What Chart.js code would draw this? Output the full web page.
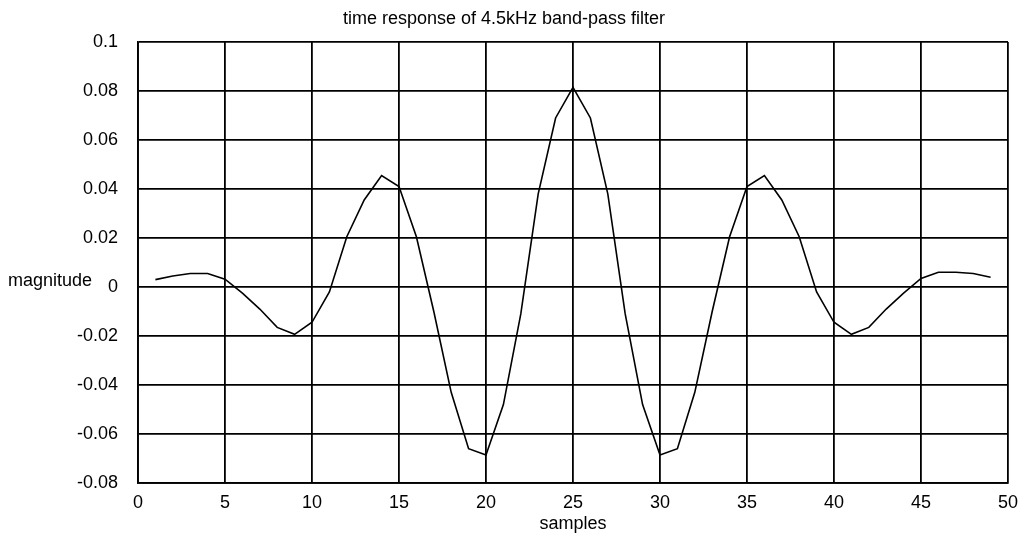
<!DOCTYPE html>
<html>
<head>
<meta charset="utf-8">
<script src="https://cdn.jsdelivr.net/npm/chart.js@4/dist/chart.umd.min.js"></script>
<style>
  html, body { margin: 0; padding: 0; background: #fff; }
  #wrap { width: 1020px; height: 537px; position: relative; }
</style>
</head>
<body>
<div id="wrap"><canvas id="c" width="1020" height="537"></canvas></div>
<script>
const chartTitle = "time response of 4.5kHz band-pass filter";
const xAxisTitle = "samples";
const yAxisTitle = "magnitude";
const samples = [1,2,3,4,5,6,7,8,9,10,11,12,13,14,15,16,17,18,19,20,21,22,23,24,25,
                 26,27,28,29,30,31,32,33,34,35,36,37,38,39,40,41,42,43,44,45,46,47,48,49];
const magnitude = [0.003, 0.0045, 0.0055, 0.0055, 0.0032, -0.0025, -0.009, -0.0165, -0.0193, -0.0144,
                   -0.002, 0.0205, 0.0355, 0.0455, 0.041, 0.0205, -0.010, -0.043, -0.066, -0.0686,
                   -0.048, -0.011, 0.038, 0.069, 0.0815,
                   0.069, 0.038, -0.011, -0.048, -0.0686, -0.066, -0.043, -0.010, 0.0205, 0.041,
                   0.0455, 0.0355, 0.0205, -0.002, -0.0144, -0.0193, -0.0165, -0.009, -0.0025, 0.0035,
                   0.006, 0.006, 0.0055, 0.004];
const xTicks = [0, 5, 10, 15, 20, 25, 30, 35, 40, 45, 50];
const yTicks = [-0.08, -0.06, -0.04, -0.02, 0, 0.02, 0.04, 0.06, 0.08, 0.1];

const FONT = "'Liberation Sans', Arial, Helvetica, sans-serif";

const yLabelPlugin = {
  id: 'yLabel',
  afterDraw(chart) {
    const ctx = chart.ctx;
    ctx.save();
    ctx.font = "18px " + FONT;
    ctx.fillStyle = "#000";
    ctx.textAlign = "left";
    ctx.textBaseline = "middle";
    ctx.fillText(yAxisTitle, 8, 281);
    ctx.restore();
  }
};

new Chart(document.getElementById('c'), {
  type: 'line',
  data: {
    datasets: [{
      data: samples.map((s, i) => ({ x: s, y: magnitude[i] })),
      borderColor: '#000',
      borderWidth: 1.6,
      pointRadius: 0,
      tension: 0,
      fill: false
    }]
  },
  options: {
    responsive: false,
    animation: false,
    devicePixelRatio: 1,
    layout: { padding: { left: 0, right: 12, top: 0, bottom: 0 } },
    plugins: {
      legend: { display: false },
      tooltip: { enabled: false },
      title: {
        display: true,
        text: chartTitle,
        color: '#000',
        font: { family: FONT, size: 18, weight: 'normal' },
        padding: { top: 8, bottom: 12.4 }
      }
    },
    scales: {
      x: {
        type: 'linear',
        min: xTicks[0],
        max: xTicks[xTicks.length - 1],
        afterBuildTicks(scale) { scale.ticks = xTicks.map(v => ({ value: v })); },
        afterFit(scale) { scale.height = 54; scale.paddingLeft = 0; scale.paddingRight = 0; },
        ticks: {
          color: '#000',
          font: { family: FONT, size: 18 },
          padding: 9,
          maxRotation: 0,
          autoSkip: false
        },
        grid: { color: '#000', lineWidth: 1.8, drawTicks: false },
        border: { color: '#000', width: 1.8 },
        title: {
          display: true,
          text: xAxisTitle,
          color: '#000',
          font: { family: FONT, size: 18 },
          padding: { top: 0, bottom: 2 }
        }
      },
      y: {
        type: 'linear',
        min: yTicks[0],
        max: yTicks[yTicks.length - 1],
        afterBuildTicks(scale) { scale.ticks = yTicks.map(v => ({ value: v })); },
        afterFit(scale) { scale.width = 138; scale.paddingTop = 0; scale.paddingBottom = 0; },
        ticks: {
          color: '#000',
          font: { family: FONT, size: 18 },
          padding: 20,
          autoSkip: false,
          callback: v => String(+Number(v).toFixed(2))
        },
        grid: { color: '#000', lineWidth: 1.8, drawTicks: false },
        border: { color: '#000', width: 1.8 }
      }
    }
  },
  plugins: [yLabelPlugin]
});
</script>
</body>
</html>
